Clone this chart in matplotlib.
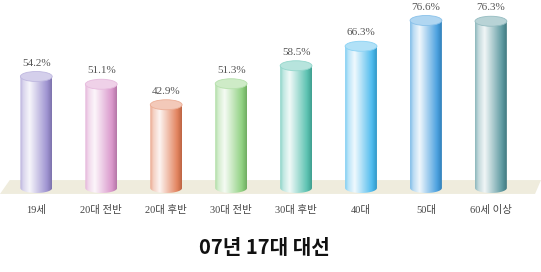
import matplotlib
matplotlib.use("Agg")
import matplotlib.pyplot as plt
import numpy as np
from matplotlib.patches import Ellipse, Polygon, PathPatch
from matplotlib.path import Path
from matplotlib.colors import to_rgb

# DATA
categories = ["19세", "20대 전반", "20대 후반", "30대 전반", "30대 후반", "40대", "50대", "60세 이상"]
turnout = [54.2, 51.1, 42.9, 51.3, 58.5, 66.3, 76.6, 76.3]
bar_colors = ["#9488cc", "#d68cc6", "#e07850", "#84cc74", "#4cbcaa", "#3cb4ec", "#3a98dc", "#4e9098"]
title = "07년 17대 대선"

BASE = 9.6        # where the cylinders stand (bars are cut off, not from zero)
BAR_W = 0.49
CAP_H = 4.0

plt.rcParams['font.family'] = ['Liberation Serif', 'Noto Sans CJK KR', 'DejaVu Sans']

fig = plt.figure(figsize=(5.41, 2.72), dpi=100)
ax = fig.add_axes([0, 0, 1, 1])
ax.set_xlim(-0.559, 7.771)
ax.set_ylim(-24, 84.8)
ax.axis('off')

# FLOOR
floor = Polygon([[0.0, 0.287], [0.018, 0.338], [1.0, 0.338], [0.989, 0.287]],
                closed=True, transform=ax.transAxes, facecolor="#efecdd",
                edgecolor="none", zorder=1)
ax.add_patch(floor)


def shade(color, n=64):
    base = np.array(to_rgb(color))
    t = np.linspace(0, 1, n)
    # amount of white mixed in across the cylinder (highlight left of centre)
    w = np.interp(t, [0, 0.1, 0.3, 0.55, 0.85, 1.0], [0.35, 0.65, 0.92, 0.55, 0.1, 0.0])
    dark = np.interp(t, [0, 0.85, 1.0], [1.0, 1.0, 0.85])
    rgb = (base[None, :] * (1 - w[:, None]) + w[:, None]) * dark[:, None]
    return np.clip(rgb[None, :, :], 0, 1)


def cylinder_path(x, top, base):
    hw = BAR_W / 2
    ang = np.linspace(np.pi, 2 * np.pi, 40)
    arc = np.column_stack([x + hw * np.cos(ang), base + CAP_H / 2 * np.sin(ang)])
    verts = [(x - hw, top)] + arc.tolist() + [(x + hw, top), (x - hw, top)]
    codes = [Path.MOVETO] + [Path.LINETO] * (len(verts) - 2) + [Path.CLOSEPOLY]
    return Path(verts, codes)


for i, (cat, val, col) in enumerate(zip(categories, turnout, bar_colors)):
    hw = BAR_W / 2
    im = ax.imshow(shade(col), extent=[i - hw, i + hw, BASE - CAP_H, val],
                   aspect='auto', interpolation='bilinear', zorder=2)
    clip = PathPatch(cylinder_path(i, val, BASE), transform=ax.transData,
                     facecolor='none', edgecolor='none')
    ax.add_patch(clip)
    im.set_clip_path(clip)

    c = np.array(to_rgb(col))
    cap = Ellipse((i, val), BAR_W, CAP_H, facecolor=c * 0.4 + 0.6,
                  edgecolor=c * 0.6 + 0.4, linewidth=0.6, zorder=3)
    ax.add_patch(cap)

    ax.text(i, val + 5.4, f"{val}%", ha='center', va='center',
            fontsize=8, color="#555555", zorder=4)
    ax.text(i, 0.8, cat, ha='center', va='center', fontsize=7.5,
            color="#444444", zorder=4)

ax.set_xlim(-0.559, 7.771)
ax.set_ylim(-24, 84.8)

fig.text(0.488, 1 - 248 / 272, title, ha='center', va='center', fontsize=14.5,
         fontweight='bold', family=['Noto Sans CJK KR', 'DejaVu Sans'], color="#111111")

fig.savefig("out.png", dpi=100, facecolor='white')
